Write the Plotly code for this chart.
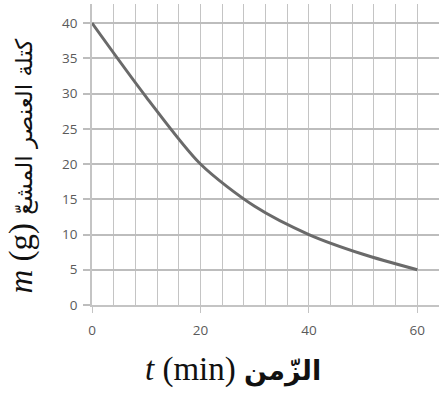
import plotly.graph_objects as go

t_min = [0, 10, 20, 30, 40, 50, 60]
mass_g = [40, 29.5, 20, 14, 10, 7.2, 5]

x_ticks = [0, 20, 40, 60]
y_ticks = [0, 5, 10, 15, 20, 25, 30, 35, 40]

GRID = "#c4c4c4"
TICKFONT = dict(family="Open Sans, DejaVu Sans", size=13.5, color="#5a5a5a")

fig = go.Figure()
fig.add_trace(go.Scatter(
    x=t_min, y=mass_g, mode="lines",
    line=dict(color="#6a6a6a", width=3, shape="spline", smoothing=0.8),
    showlegend=False, hoverinfo="skip",
))

fig.update_layout(
    width=439, height=401,
    margin=dict(l=92, r=0, t=4, b=96),
    paper_bgcolor="white", plot_bgcolor="white",
    xaxis=dict(
        range=[0, 64], tickvals=x_ticks, ticktext=[str(v) for v in x_ticks],
        showgrid=True, gridcolor=GRID, gridwidth=1.4,
        minor=dict(dtick=4, tick0=0, showgrid=True, gridcolor=GRID, gridwidth=1.4, ticks=""),
        ticks="outside", ticklen=6, tickcolor=GRID, tickwidth=1.4,
        showline=True, linecolor=GRID, linewidth=1.5,
        zeroline=False, tickfont=TICKFONT, ticklabelstandoff=6,
    ),
    yaxis=dict(
        range=[0, 42.7], tickvals=y_ticks, ticktext=[str(v) for v in y_ticks],
        showgrid=True, gridcolor="#bdbdbd", gridwidth=1.5,
        ticks="outside", ticklen=7, tickcolor="#bdbdbd", tickwidth=1.5,
        showline=True, linecolor=GRID, linewidth=1.5,
        zeroline=False, tickfont=TICKFONT, ticklabelstandoff=3,
    ),
)

fig.add_annotation(
    xref="paper", yref="paper", x=0.405, y=-0.215,
    xanchor="center", yanchor="middle", showarrow=False,
    text="<i>t</i> (min) <span style='font-family:DejaVu Sans;font-size:27px;font-weight:bold'>الزّمن</span>",
    font=dict(family="Liberation Serif, DejaVu Sans", size=33, color="#111111"),
)

fig.add_annotation(
    xref="paper", yref="paper", x=0, xshift=-70, y=0.46,
    xanchor="center", yanchor="middle", showarrow=False, textangle=-90,
    text="<i>m</i> (g) <span style='font-family:DejaVu Sans;font-size:23px'>كتلة العنصر المشعّ</span>",
    font=dict(family="Liberation Serif, DejaVu Sans", size=33, color="#111111"),
)

fig.write_html("out.html")
